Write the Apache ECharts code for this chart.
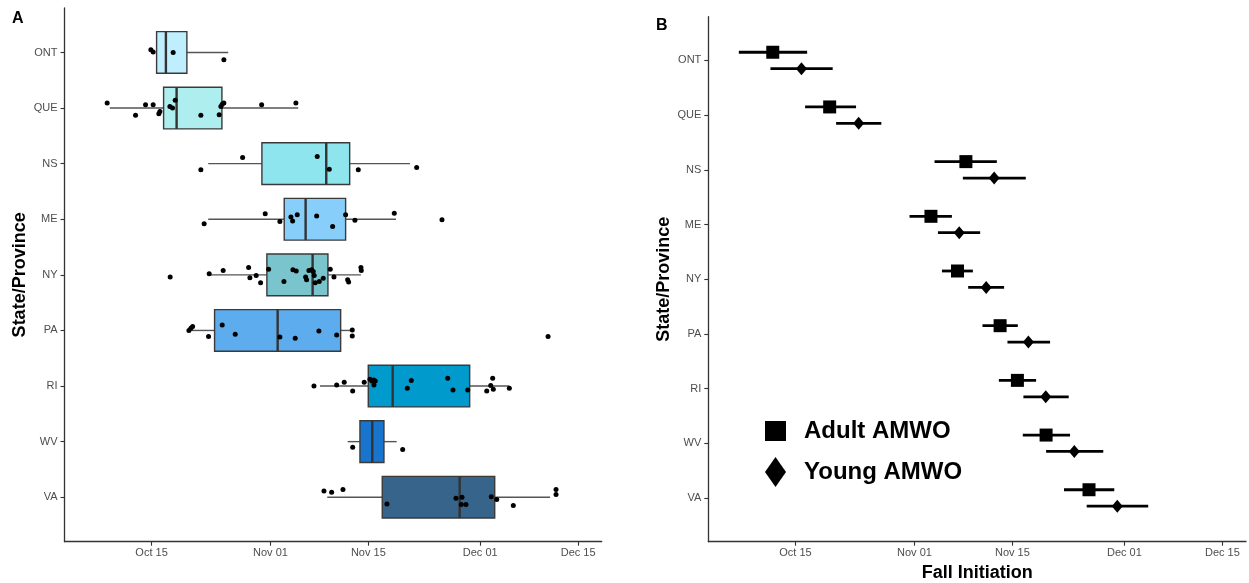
<!DOCTYPE html>
<html>
<head>
<meta charset="utf-8">
<script src="https://cdn.jsdelivr.net/npm/echarts@6/dist/echarts.min.js"></script>
<style>
html,body{margin:0;padding:0;background:#fff;}
#chart{width:1249px;height:583px;}
</style>
</head>
<body>
<div id="chart"></div>
<script>
// ---- data (x values: days after Oct 1) ----
const categories = ['ONT', 'QUE', 'NS', 'ME', 'NY', 'PA', 'RI', 'WV', 'VA'];
const tickDays = [14, 31, 45, 61, 75];
const tickLabels = ['Oct 15', 'Nov 01', 'Nov 15', 'Dec 01', 'Dec 15'];

// Panel A: boxplot statistics
const boxMin = [14.72, 8.03, 22.1, 22.1, 22.24, 19.48, 38.08, 42.04, 39.12];
const boxQ1 = [14.72, 15.72, 29.78, 32.97, 30.49, 23.01, 44.99, 43.8, 46.99];
const boxMedian = [16.05, 17.58, 38.98, 36.03, 37.03, 32.03, 48.48, 45.56, 58.06];
const boxQ3 = [19.05, 24.06, 42.33, 41.75, 39.22, 41.04, 59.49, 47.23, 63.07];
const boxMax = [24.96, 34.97, 50.95, 48.95, 43.94, 42.61, 65.16, 49.05, 70.98];

// Panel A: jittered individual observations (day, vertical jitter in category units)
const pointDays = [
  [13.9, 14.23, 17.09, 24.34],
  [7.65, 11.71, 13.14, 14.23, 15.04, 15.19, 16.62, 17.0, 17.38, 21.05, 23.67, 23.91, 24.1, 24.34, 29.74, 34.64],
  [21.05, 27.02, 37.69, 39.41, 43.56, 51.91],
  [21.52, 30.25, 32.35, 33.93, 34.17, 34.83, 37.61, 39.89, 41.75, 43.08, 48.71, 55.53],
  [16.66, 22.24, 24.24, 27.88, 28.06, 28.96, 29.59, 30.74, 32.93, 34.21, 34.69, 36.03, 36.17, 36.5, 36.89, 37.12, 37.26, 37.4, 37.98, 38.55, 39.55, 40.08, 42.04, 42.18, 43.94, 43.99],
  [19.34, 19.62, 19.87, 22.15, 24.1, 25.96, 32.35, 34.54, 37.93, 40.47, 42.7, 42.7, 70.7],
  [37.22, 40.47, 41.55, 42.76, 44.41, 45.23, 45.52, 45.76, 45.99, 45.8, 50.57, 51.14, 56.35, 57.1, 59.21, 61.93, 62.5, 62.78, 62.87, 65.16],
  [42.76, 49.91],
  [38.65, 39.75, 41.37, 47.66, 57.53, 58.39, 58.29, 58.96, 62.58, 63.36, 65.73, 71.84, 71.84]
];
const pointJitter = [
  [-0.05, -0.01, 0, 0.13],
  [-0.09, 0.13, -0.06, -0.06, 0.1, 0.06, -0.03, 0, -0.14, 0.13, 0.12, -0.03, -0.07, -0.09, -0.06, -0.09],
  [0.11, -0.11, -0.13, 0.1, 0.11, 0.07],
  [0.08, -0.1, 0.04, -0.04, 0.03, -0.08, -0.06, 0.13, -0.08, 0.02, -0.11, 0.01],
  [0.04, -0.02, -0.08, -0.13, 0.05, 0.01, 0.14, -0.1, 0.12, -0.09, -0.07, 0.04, 0.09, -0.08, -0.09, -0.06, 0.01, 0.14, 0.12, 0.06, -0.1, 0.04, 0.09, 0.13, -0.13, -0.08],
  [0, -0.04, -0.07, 0.11, -0.1, 0.07, 0.12, 0.14, 0.01, 0.08, -0.01, 0.1, 0.11],
  [0, -0.02, -0.07, 0.09, -0.07, -0.12, -0.09, -0.11, -0.09, -0.02, 0.04, -0.1, -0.14, 0.07, 0.07, 0.09, -0.01, -0.14, 0.06, 0.04],
  [0.1, 0.14],
  [-0.11, -0.09, -0.14, 0.12, 0.02, 0, 0.13, 0.13, -0.01, 0.04, 0.15, -0.14, -0.05]
];

// Panel B: estimates with intervals
const adultMean = [10.76, 18.89, 38.35, 33.36, 37.15, 43.24, 45.71, 49.81, 55.94];
const adultLow = [5.91, 15.38, 33.87, 30.3, 34.93, 40.72, 43.06, 46.48, 52.37];
const adultHigh = [15.67, 22.66, 42.77, 36.35, 39.35, 45.77, 48.38, 53.23, 59.55];
const youngMean = [14.86, 23.03, 42.39, 37.4, 41.25, 47.28, 49.76, 53.84, 59.98];
const youngLow = [10.43, 19.81, 37.92, 34.36, 38.68, 44.29, 46.57, 49.81, 55.61];
const youngHigh = [19.32, 26.27, 46.91, 40.39, 43.81, 50.38, 53.04, 57.98, 64.4];

// ---- styles ----
const boxColors = ['#BFEFFF', '#AEEEEE', '#8EE5EE', '#87CEFA', '#7AC5CD', '#5CACEE', '#009ACD', '#1874CD', '#36648B'];
const FONT = "'Liberation Sans', Arial, sans-serif";
const X_MIN = 1.55, X_MAX = 78.37;
const DODGE = 0.15;

const chart = echarts.init(document.getElementById('chart'), null, {renderer: 'canvas'});

function xAxisCfg(gridIndex, name) {
  return {
    type: 'value', gridIndex: gridIndex, min: X_MIN, max: X_MAX,
    name: name || '', nameLocation: 'middle', nameGap: 21,
    nameTextStyle: {fontFamily: FONT, fontSize: 18, fontWeight: 'bold', color: '#000'},
    splitLine: {show: false},
    axisLine: {show: true, onZero: false, lineStyle: {color: '#333', width: 1.3}},
    axisTick: {show: true, length: 4, customValues: tickDays, lineStyle: {color: '#333', width: 1.1}},
    axisLabel: {
      customValues: tickDays, margin: 6, fontFamily: FONT, fontSize: 11, color: '#4D4D4D',
      formatter: function (v) { const k = tickDays.indexOf(Math.round(v)); return k >= 0 ? tickLabels[k] : ''; }
    }
  };
}
function yAxisCfg(gridIndex) {
  const idx = categories.map(function (c, i) { return i; });
  return {
    type: 'value', gridIndex: gridIndex, min: -0.8, max: 8.8, inverse: true,
    name: 'State/Province', nameLocation: 'middle', nameRotate: 90, nameGap: 35,
    nameTextStyle: {fontFamily: FONT, fontSize: 18, fontWeight: 'bold', color: '#000'},
    splitLine: {show: false},
    axisLine: {show: true, onZero: false, lineStyle: {color: '#333', width: 1.3}},
    axisTick: {show: true, length: 4, customValues: idx, lineStyle: {color: '#333', width: 1.1}},
    axisLabel: {
      customValues: idx, margin: 7, fontFamily: FONT, fontSize: 11, color: '#4D4D4D',
      formatter: function (v) { return categories[Math.round(v)] || ''; }
    }
  };
}

const boxData = categories.map(function (c, i) {
  return [i, boxMin[i], boxQ1[i], boxMedian[i], boxQ3[i], boxMax[i]];
});
const jitterData = [];
pointDays.forEach(function (arr, i) {
  arr.forEach(function (d, j) { jitterData.push([d, i + pointJitter[i][j]]); });
});

function renderBox(params, api) {
  const i = api.value(0);
  const lo = api.coord([api.value(1), i]);
  const q1 = api.coord([api.value(2), i]);
  const md = api.coord([api.value(3), i]);
  const q3 = api.coord([api.value(4), i]);
  const hi = api.coord([api.value(5), i]);
  const h = api.size([0, 0.75])[1];
  const top = q1[1] - h / 2;
  const wStyle = {stroke: '#555', lineWidth: 1.4};
  return {
    type: 'group',
    children: [
      {type: 'line', shape: {x1: lo[0], y1: lo[1], x2: q1[0], y2: q1[1]}, style: wStyle},
      {type: 'line', shape: {x1: q3[0], y1: q3[1], x2: hi[0], y2: hi[1]}, style: wStyle},
      {type: 'rect', shape: {x: q1[0], y: top, width: q3[0] - q1[0], height: h},
        style: {fill: boxColors[i], stroke: '#3a3a3a', lineWidth: 1.4}},
      {type: 'line', shape: {x1: md[0], y1: top, x2: md[0], y2: top + h},
        style: {stroke: '#333', lineWidth: 2.4}}
    ]
  };
}

function renderBar(params, api) {
  const y = api.value(0);
  const a = api.coord([api.value(1), y]);
  const b = api.coord([api.value(2), y]);
  return {type: 'line', shape: {x1: a[0], y1: a[1], x2: b[0], y2: b[1]},
    style: {stroke: '#000', lineWidth: 2.8}};
}

const adultBars = categories.map(function (c, i) { return [i - DODGE, adultLow[i], adultHigh[i]]; });
const youngBars = categories.map(function (c, i) { return [i + DODGE, youngLow[i], youngHigh[i]]; });
const adultPts = categories.map(function (c, i) { return [adultMean[i], i - DODGE]; });
const youngPts = categories.map(function (c, i) { return [youngMean[i], i + DODGE]; });

const legendText = {fontFamily: FONT, fontSize: 24, fontWeight: 'bold', color: '#000', padding: [0, 0, 0, 13]};

chart.setOption({
  animation: false,
  backgroundColor: '#fff',
  title: [
    {text: 'A', left: 7, top: 6, textStyle: {fontFamily: FONT, fontSize: 16, fontWeight: 'bold', color: '#000'}},
    {text: 'B', left: 651, top: 13, textStyle: {fontFamily: FONT, fontSize: 16, fontWeight: 'bold', color: '#000'}}
  ],
  legend: [
    {data: [{name: 'Adult AMWO', icon: 'rect'}], left: 760, top: 414, itemWidth: 21, itemHeight: 20,
      selectedMode: false, textStyle: legendText},
    {data: [{name: 'Young AMWO', icon: 'diamond'}], left: 760, top: 452, itemWidth: 21, itemHeight: 30,
      selectedMode: false, textStyle: legendText}
  ],
  grid: [
    {left: 64.5, right: 647.3, top: 8, bottom: 41.3, containLabel: false, outerBoundsMode: 'none'},
    {left: 708.3, right: 3, top: 16.7, bottom: 41.3, containLabel: false, outerBoundsMode: 'none'}
  ],
  xAxis: [xAxisCfg(0, ''), xAxisCfg(1, 'Fall Initiation')],
  yAxis: [yAxisCfg(0), yAxisCfg(1)],
  series: [
    {type: 'custom', name: 'boxes', xAxisIndex: 0, yAxisIndex: 0, renderItem: renderBox,
      encode: {x: [1, 2, 3, 4, 5], y: 0}, data: boxData, z: 2},
    {type: 'scatter', name: 'obs', xAxisIndex: 0, yAxisIndex: 0, data: jitterData,
      symbol: 'circle', symbolSize: 5, itemStyle: {color: '#000', opacity: 1}, z: 3},
    {type: 'custom', name: 'adultBars', xAxisIndex: 1, yAxisIndex: 1, renderItem: renderBar,
      encode: {x: [1, 2], y: 0}, data: adultBars, z: 2},
    {type: 'custom', name: 'youngBars', xAxisIndex: 1, yAxisIndex: 1, renderItem: renderBar,
      encode: {x: [1, 2], y: 0}, data: youngBars, z: 2},
    {type: 'scatter', name: 'Adult AMWO', xAxisIndex: 1, yAxisIndex: 1, data: adultPts,
      symbol: 'rect', symbolSize: 13, itemStyle: {color: '#000', opacity: 1}, z: 3},
    {type: 'scatter', name: 'Young AMWO', xAxisIndex: 1, yAxisIndex: 1, data: youngPts,
      symbol: 'diamond', symbolSize: [11, 13], itemStyle: {color: '#000', opacity: 1}, z: 3}
  ]
});
</script>
</body>
</html>
